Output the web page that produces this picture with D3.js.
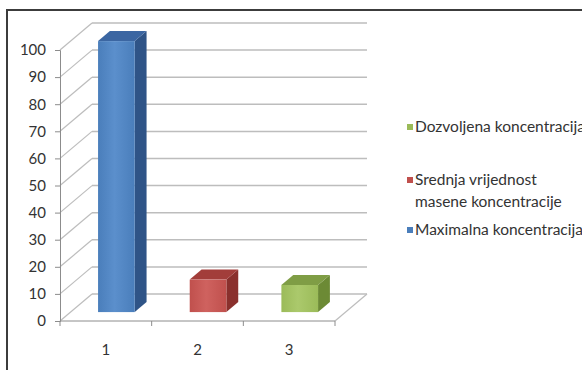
<!DOCTYPE html>
<html>
<head>
<meta charset="utf-8">
<script src="https://cdn.jsdelivr.net/npm/d3@7"></script>
<style>
  body { margin: 0; background: #fff; }
  text { font-family: Lato, "Open Sans", sans-serif; fill: #333; }
</style>
</head>
<body>
<div id="chart"></div>
<script>
// chart data
var categories = ['1', '2', '3'];
var values = [100, 12, 10];
var seriesNames = ['Maximalna koncentracija', 'Srednja vrijednost|masene koncentracije', 'Dozvoljena koncentracija'];
var yTicks = [0, 10, 20, 30, 40, 50, 60, 70, 80, 90, 100];

// colours per series: front, side, top
var colors = [
  {front: '#4a7ebb', light: '#5b8fcc', side: '#2f5487', top: '#3b66a2'},
  {front: '#c0504d', light: '#cf625f', side: '#8a302d', top: '#a23d3a'},
  {front: '#9bbb59', light: '#abc96c', side: '#6c8a35', top: '#7f9d45'}
];

var width = 582, height = 370;
var depth = {dx: 32, dy: -27};      // full depth of the 3d box
var barDepth = [0.33, 0.7];         // bars sit in the middle of the depth

var svg = d3.select('#chart').append('svg')
    .attr('width', width)
    .attr('height', height);

var defs = svg.append('defs');
colors.forEach(function(c, i) {
  var g = defs.append('linearGradient').attr('id', 'grad' + i);
  g.append('stop').attr('offset', '0%').attr('stop-color', c.front);
  g.append('stop').attr('offset', '45%').attr('stop-color', c.light);
  g.append('stop').attr('offset', '100%').attr('stop-color', c.front);
});

// outer border (top and left visible)
svg.append('path')
    .attr('d', 'M7,' + height + 'V10H' + width)
    .attr('fill', 'none')
    .attr('stroke', '#3c3c3c')
    .attr('stroke-width', 2);

var x = d3.scaleBand().domain(categories).range([60, 335]).paddingInner(0.6).paddingOuter(0.3);
var y = d3.scaleLinear().domain([0, 100]).range([321, 50]);

var x0 = x.range()[0], x1 = x.range()[1];

function px(xx, d) { return xx + d * depth.dx; }
function py(yy, d) { return yy + d * depth.dy; }

// back wall gridlines
svg.append('g').selectAll('line.back')
  .data(yTicks).enter().append('line')
    .attr('x1', px(x0, 1)).attr('x2', px(x1, 1))
    .attr('y1', function(d) { return py(y(d), 1); })
    .attr('y2', function(d) { return py(y(d), 1); })
    .attr('stroke', '#bdbdbd').attr('stroke-width', 1.5);

// side wall diagonals
svg.append('g').selectAll('line.side')
  .data(yTicks).enter().append('line')
    .attr('x1', x0).attr('x2', px(x0, 1))
    .attr('y1', function(d) { return y(d); })
    .attr('y2', function(d) { return py(y(d), 1); })
    .attr('stroke', '#bdbdbd').attr('stroke-width', 1.2);

// floor right edge
svg.append('line')
    .attr('x1', x1).attr('y1', y(0))
    .attr('x2', px(x1, 1)).attr('y2', py(y(0), 1))
    .attr('stroke', '#bdbdbd').attr('stroke-width', 1.2);

// bars
var bars = svg.append('g').selectAll('g.bar')
  .data(values).enter().append('g');

bars.each(function(v, i) {
  var g = d3.select(this);
  var c = colors[i];
  var fx = px(x(categories[i]), barDepth[0]);
  var fw = x.bandwidth();
  var ftop = py(y(v), barDepth[0]);
  var fbot = py(y(0), barDepth[0]);
  var ddx = (barDepth[1] - barDepth[0]) * depth.dx;
  var ddy = (barDepth[1] - barDepth[0]) * depth.dy;

  // side face
  g.append('path')
    .attr('d', 'M' + (fx + fw) + ',' + ftop + 'L' + (fx + fw + ddx) + ',' + (ftop + ddy) +
               'L' + (fx + fw + ddx) + ',' + (fbot + ddy) + 'L' + (fx + fw) + ',' + fbot + 'Z')
    .attr('fill', c.side);
  // top face
  g.append('path')
    .attr('d', 'M' + fx + ',' + ftop + 'L' + (fx + ddx) + ',' + (ftop + ddy) +
               'L' + (fx + fw + ddx) + ',' + (ftop + ddy) + 'L' + (fx + fw) + ',' + ftop + 'Z')
    .attr('fill', c.top);
  // front face
  g.append('rect')
    .attr('x', fx).attr('y', ftop)
    .attr('width', fw).attr('height', fbot - ftop)
    .attr('fill', 'url(#grad' + i + ')');
});

// y axis
var yAxis = svg.append('g')
    .attr('transform', 'translate(' + x0 + ',0)')
    .call(d3.axisLeft(y).tickValues(yTicks).tickSize(5).tickPadding(9));
yAxis.selectAll('path, line').attr('stroke', '#8c8c8c');
yAxis.selectAll('text').style('font-size', '15px').attr('fill', '#333');

// x axis line with ticks between categories
svg.append('line')
    .attr('x1', x0).attr('x2', x1)
    .attr('y1', y(0)).attr('y2', y(0))
    .attr('stroke', '#8c8c8c');
var bounds = [x0].concat(categories.map(function(c) { return x(c) + x.bandwidth() + x.step() * 0.3; }));
svg.append('g').selectAll('line')
  .data(bounds).enter().append('line')
    .attr('x1', function(d) { return d; }).attr('x2', function(d) { return d; })
    .attr('y1', y(0)).attr('y2', y(0) + 5)
    .attr('stroke', '#8c8c8c');

svg.append('g').selectAll('text')
  .data(categories).enter().append('text')
    .attr('x', function(d) { return x(d) + x.bandwidth() / 2; })
    .attr('y', 355)
    .attr('text-anchor', 'middle')
    .style('font-size', '15px')
    .text(function(d) { return d; });

// legend (reverse order)
var legendY = [230, 180, 127];
var legend = svg.append('g').selectAll('g')
  .data(seriesNames).enter().append('g')
    .attr('transform', function(d, i) { return 'translate(407,' + legendY[i] + ')'; });

legend.append('rect')
    .attr('x', 0).attr('y', -3)
    .attr('width', 6).attr('height', 6)
    .attr('fill', function(d, i) { return colors[i].front; });

legend.append('text')
    .attr('x', 8)
    .style('font-size', '15.5px')
    .each(function(d) {
      var lines = d.split('|');
      var t = d3.select(this);
      lines.forEach(function(l, k) {
        t.append('tspan').attr('x', 8).attr('dy', k === 0 ? '0.35em' : '22px').text(l);
      });
    });
</script>
</body>
</html>
